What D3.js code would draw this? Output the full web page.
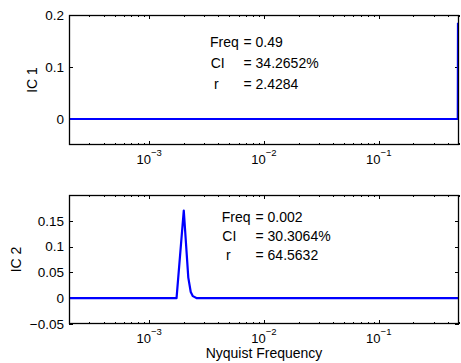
<!DOCTYPE html>
<html>
<head>
<meta charset="utf-8">
<script src="https://cdn.jsdelivr.net/npm/d3@7"></script>
<style>
    body { margin: 0; background: #fff; }
    svg { display: block; font-family: "Liberation Sans", Arial, Helvetica, sans-serif; }
</style>
</head>
<body>
<svg id="chart" width="461" height="363"></svg>
<script>
// data
const freq1 = [0.0002, 0.488, 0.49];
const ic1 = [0, 0, 0.185];
const freq2 = [0.0002, 0.00173, 0.002, 0.00219, 0.0023, 0.0024, 0.0026, 0.5];
const ic2 = [0, 0, 0.17, 0.04, 0.012, 0.004, 0, 0];

const xDomain = [0.0002, 0.5];
const yDomain = [-0.05, 0.2];
const xTickExps = [-3, -2, -1];
const yTicks1 = [0, 0.1, 0.2];
const yTicks2 = [-0.05, 0, 0.05, 0.1, 0.15];
const yLabels = ["IC 1", "IC 2"];
const notes1 = [["Freq", "= 0.49"], ["CI", "= 34.2652%"], ["r", "= 2.4284"]];
const notes2 = [["Freq", "= 0.002"], ["CI", "= 30.3064%"], ["r", "= 64.5632"]];

const svg = d3.select("#chart");
const left = 69, right = 459;

const panels = [
    {top: 15, bottom: 145, freq: freq1, vals: ic1, yTicks: yTicks1, label: yLabels[0], labelX: 37,
     notes: notes1, noteX: [210, 210.7, 214], eqX: 243.5, noteY: [46.7, 67.7, 89]},
    {top: 195, bottom: 324, freq: freq2, vals: ic2, yTicks: yTicks2, label: yLabels[1], labelX: 20.5,
     notes: notes2, noteX: [221.7, 222.3, 226], eqX: 255.5, noteY: [222.3, 241, 260]}
];

panels.forEach((p, idx) => {
    const x = d3.scaleLog().domain(xDomain).range([left, right]);
    const y = d3.scaleLinear().domain(yDomain).range([p.bottom, p.top]);
    const g = svg.append("g");

    g.append("clipPath").attr("id", "clip" + idx)
        .append("rect")
        .attr("x", left).attr("y", p.top)
        .attr("width", right - left).attr("height", p.bottom - p.top);

    // minor + major x ticks, top and bottom, pointing inward
    const allTicks = x.ticks().filter(t => t >= xDomain[0] && t <= xDomain[1]);
    const isMajor = t => Math.abs(Math.log10(t) - Math.round(Math.log10(t))) < 1e-6;
    allTicks.forEach(t => {
        const len = isMajor(t) ? 4 : 2;
        const xx = Math.round(x(t)) + 0.5;
        g.append("line").attr("x1", xx).attr("x2", xx)
            .attr("y1", p.bottom).attr("y2", p.bottom - len)
            .attr("stroke", "#000").attr("stroke-width", 1);
        g.append("line").attr("x1", xx).attr("x2", xx)
            .attr("y1", p.top).attr("y2", p.top + len)
            .attr("stroke", "#000").attr("stroke-width", 1);
    });

    xTickExps.forEach(e => {
        const t = g.append("text")
            .attr("x", x(Math.pow(10, e)))
            .attr("y", p.bottom + 18.5)
            .attr("text-anchor", "middle")
            .attr("font-size", 13)
            .attr("fill", "#000");
        t.append("tspan").text("10");
        t.append("tspan").attr("dy", -7.5).attr("font-size", 9.5).text("\u2212" + Math.abs(e));
    });

    // y ticks left and right
    p.yTicks.forEach(v => {
        const yy = Math.round(y(v)) + 0.5;
        g.append("line").attr("x1", left).attr("x2", left + 4)
            .attr("y1", yy).attr("y2", yy)
            .attr("stroke", "#000");
        g.append("line").attr("x1", right).attr("x2", right - 4)
            .attr("y1", yy).attr("y2", yy)
            .attr("stroke", "#000");
        g.append("text")
            .attr("x", left - 5)
            .attr("y", y(v))
            .attr("dy", "0.36em")
            .attr("text-anchor", "end")
            .attr("font-size", 13.5)
            .text(d3.format("")(v).replace("-", "\u2212"));
    });

    const line = d3.line()
        .x(d => x(d[0]))
        .y(d => y(d[1]));

    g.append("path")
        .datum(p.freq.map((f, i) => [f, p.vals[i]]))
        .attr("clip-path", "url(#clip" + idx + ")")
        .attr("fill", "none")
        .attr("stroke", "#0000ff")
        .attr("stroke-width", 2.2)
        .attr("stroke-linejoin", "round")
        .attr("d", line);

    g.append("rect")
        .attr("x", left + 0.5).attr("y", p.top + 0.5)
        .attr("width", right - left - 1).attr("height", p.bottom - p.top - 1)
        .attr("fill", "none")
        .attr("stroke", "#000")
        .attr("stroke-width", 1.3);

    g.append("text")
        .attr("transform", "translate(" + p.labelX + "," + ((p.top + p.bottom) / 2) + ") rotate(-90)")
        .attr("text-anchor", "middle")
        .attr("font-size", 14)
        .text(p.label);

    p.notes.forEach((n, i) => {
        g.append("text")
            .attr("x", p.noteX[i]).attr("y", p.noteY[i])
            .attr("font-size", 14)
            .text(n[0]);
        g.append("text")
            .attr("x", p.eqX).attr("y", p.noteY[i])
            .attr("font-size", 14)
            .text(n[1]);
    });
});

svg.append("text")
    .attr("x", (left + right) / 2)
    .attr("y", 357.5)
    .attr("text-anchor", "middle")
    .attr("font-size", 14)
    .text("Nyquist Frequency");
</script>
</body>
</html>
